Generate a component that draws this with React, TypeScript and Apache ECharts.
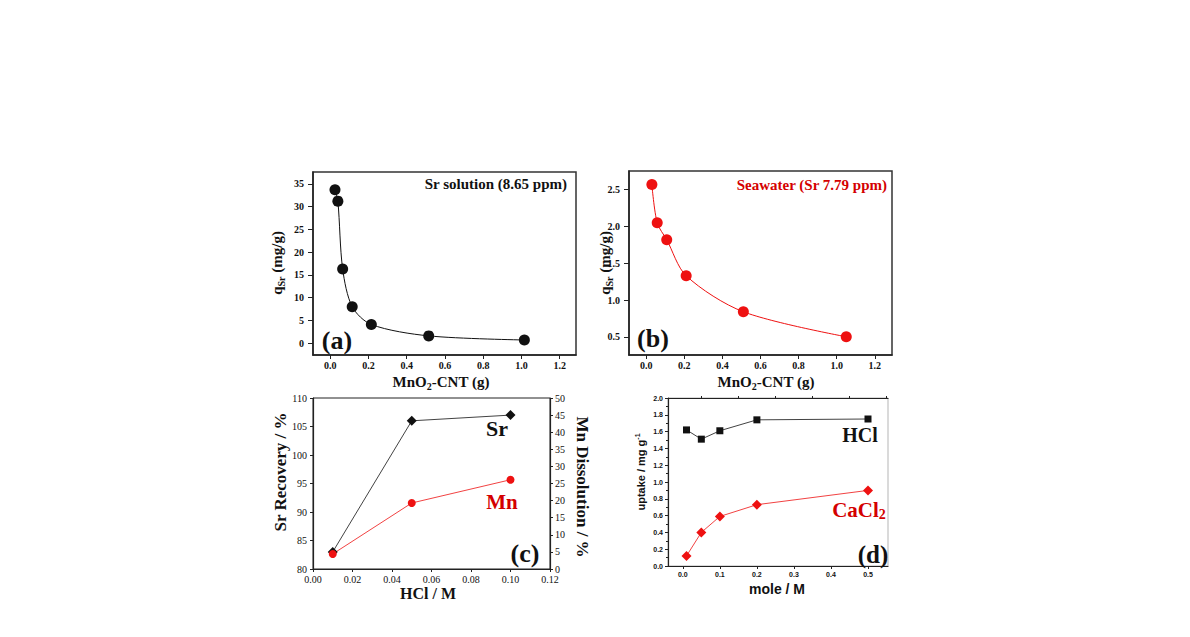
import React, { useEffect, useRef } from "react";
import * as echarts from "echarts";

// ---- data ----
const aX = [0.025, 0.04, 0.065, 0.115, 0.215, 0.515, 1.015];
const aY = [33.7, 31.2, 16.3, 8.0, 4.1, 1.6, 0.7];

const bX = [0.03, 0.058, 0.108, 0.21, 0.51, 1.05];
const bY = [2.57, 2.05, 1.82, 1.33, 0.84, 0.5];

const cX = [0.01, 0.05, 0.1];
const cSr = [83.0, 106.0, 107.0];
const cMn = [4.4, 19.3, 26.1];

const dX = [0.01, 0.05, 0.1, 0.2, 0.5];
const dHCl = [1.62, 1.51, 1.61, 1.74, 1.75];
const dCaCl2 = [0.12, 0.4, 0.59, 0.73, 0.9];

const abXTicks = [0, 0.2, 0.4, 0.6, 0.8, 1.0, 1.2];
const aYTicks = [0, 5, 10, 15, 20, 25, 30, 35];
const bYTicks = [0.5, 1.0, 1.5, 2.0, 2.5];
const dXTicks = [0, 0.1, 0.2, 0.3, 0.4, 0.5];
const dXMinor = [0.05, 0.15, 0.25, 0.35, 0.45, 0.55];

const serif = '"Liberation Serif", "Times New Roman", serif';
const sans = '"Liberation Sans", Arial, sans-serif';
const RED = "#ee1111";
const TRED = "#d40000";

const pairs = (xs: number[], ys: number[]) => xs.map((x, i) => [x, ys[i]]);

function label(x: number, y: number, text: string, size: number, color: string, opts: any = {}) {
  const fam = opts.family || serif;
  const rich: any = {
    m: { fontSize: size, fontFamily: fam, fontWeight: "bold", fill: color, color, lineHeight: opts.lh || size + 3 },
    s: {
      fontSize: opts.sub || Math.round(size * 0.65),
      fontFamily: fam,
      fontWeight: "bold",
      fill: color,
      color,
      lineHeight: opts.sub || Math.round(size * 0.65),
      padding: [opts.subPad || Math.round(size * 0.5), 0, 0, 0],
    },
    p: {
      fontSize: opts.sup || Math.round(size * 0.7),
      fontFamily: fam,
      fontWeight: "bold",
      fill: color,
      color,
      lineHeight: opts.sup || Math.round(size * 0.7),
      padding: [0, 0, opts.supPad || Math.round(size * 0.6), 0],
    },
  };
  return {
    type: "text",
    x,
    y,
    rotation: opts.rot || 0,
    z: 100,
    style: {
      text,
      rich,
      fill: color,
      fontSize: size,
      fontFamily: fam,
      fontWeight: "bold",
      align: "center",
      verticalAlign: "middle",
    },
  };
}

function valAxis(grid: number, min: number, max: number, o: any = {}) {
  return {
    type: "value",
    gridIndex: grid,
    min,
    max,
    splitLine: { show: false },
    axisLine: { show: true, onZero: false, lineStyle: { color: o.lineColor || "#222", width: o.lineWidth || 1.2 } },
    axisTick: {
      show: true,
      inside: false,
      length: o.tickLen || 4,
      lineStyle: { color: "#222", width: 1 },
      ...(o.ticks ? { customValues: o.ticks } : {}),
    },
    axisLabel: {
      show: o.noLabel ? false : true,
      fontSize: o.fontSize || 10,
      fontFamily: o.family || serif,
      fontWeight: o.weight || "bold",
      color: "#111",
      margin: o.margin ?? 6,
      formatter: (v: number) => (o.dec != null ? v.toFixed(o.dec) : String(v)),
      ...(o.ticks ? { customValues: o.ticks } : {}),
    },
    ...(o.interval ? { interval: o.interval } : {}),
    ...(o.position ? { position: o.position } : {}),
    ...(o.minor ? { minorTick: { show: true, splitNumber: 2, length: 2, lineStyle: { color: "#222" } } } : {}),
  };
}

export default function App() {
  const ref = useRef<HTMLDivElement>(null);
  useEffect(() => {
    if (!ref.current) return;
    const chart = echarts.init(ref.current, undefined, { renderer: "svg" });
    const option: any = {
      animation: false,
      backgroundColor: "#ffffff",
      grid: [
        { left: 313, top: 172, width: 263, height: 183, show: true, borderColor: "#333", borderWidth: 1.5, backgroundColor: "transparent" },
        { left: 629, top: 171, width: 263, height: 184, show: true, borderColor: "#333", borderWidth: 1.5, backgroundColor: "transparent" },
        { left: 313, top: 398, width: 237, height: 171, show: true, borderColor: "#222", borderWidth: 1, backgroundColor: "transparent" },
        { left: 668, top: 398, width: 220, height: 168, show: true, borderColor: "#b5b5b5", borderWidth: 1, backgroundColor: "transparent" },
      ],
      xAxis: [
        valAxis(0, -0.09, 1.285, { ticks: abXTicks, dec: 1, margin: 5, lineWidth: 1.5 }),
        valAxis(1, -0.09, 1.29, { ticks: abXTicks, dec: 1, margin: 5, lineWidth: 1.5 }),
        valAxis(2, 0, 0.12, { interval: 0.02, dec: 2, weight: "normal", margin: 5, fontSize: 10, tickLen: 3 }),
        valAxis(3, -0.04, 0.554, { ticks: dXTicks, dec: 1, family: sans, fontSize: 7, margin: 5, tickLen: 3 }),
        valAxis(3, -0.04, 0.554, { ticks: dXMinor, noLabel: true, tickLen: 2 }),
      ],
      yAxis: [
        valAxis(0, -2.6, 37.6, { ticks: aYTicks, margin: 9, tickLen: 5, lineWidth: 1.5 }),
        valAxis(1, 0.252, 2.755, { ticks: bYTicks, dec: 1, margin: 9, tickLen: 5, lineWidth: 1.5 }),
        valAxis(2, 80, 110, { interval: 5, weight: "normal", margin: 6, fontSize: 10, tickLen: 3 }),
        valAxis(2, 0, 50, { interval: 5, weight: "normal", margin: 5, fontSize: 10, position: "right", tickLen: 3 }),
        valAxis(3, 0, 2.0, { interval: 0.2, dec: 1, family: sans, fontSize: 7, margin: 5, tickLen: 3, minor: true }),
      ],
      series: [
        {
          type: "line",
          xAxisIndex: 0,
          yAxisIndex: 0,
          data: pairs(aX, aY),
          smooth: 0.3,
          symbol: "circle",
          symbolSize: 11,
          itemStyle: { color: "#111" },
          lineStyle: { color: "#111", width: 1 },
        },
        {
          type: "line",
          xAxisIndex: 1,
          yAxisIndex: 1,
          data: pairs(bX, bY),
          smooth: 0.3,
          symbol: "circle",
          symbolSize: 11,
          itemStyle: { color: RED },
          lineStyle: { color: RED, width: 1 },
        },
        {
          type: "line",
          xAxisIndex: 2,
          yAxisIndex: 2,
          data: pairs(cX, cSr),
          symbol: "diamond",
          symbolSize: 10,
          itemStyle: { color: "#111" },
          lineStyle: { color: "#111", width: 0.8 },
        },
        {
          type: "line",
          xAxisIndex: 2,
          yAxisIndex: 3,
          data: pairs(cX, cMn),
          symbol: "circle",
          symbolSize: 8,
          itemStyle: { color: RED },
          lineStyle: { color: RED, width: 0.8 },
        },
        {
          type: "line",
          xAxisIndex: 3,
          yAxisIndex: 4,
          data: pairs(dX, dHCl),
          symbol: "rect",
          symbolSize: 7,
          itemStyle: { color: "#111" },
          lineStyle: { color: "#111", width: 0.8 },
        },
        {
          type: "line",
          xAxisIndex: 3,
          yAxisIndex: 4,
          data: pairs(dX, dCaCl2),
          symbol: "diamond",
          symbolSize: 10,
          itemStyle: { color: RED },
          lineStyle: { color: RED, width: 0.8 },
        },
      ],
      graphic: [
        // panel a
        label(277, 263, "{m|q}{s|Sr}{m| (mg/g)}", 15, "#111", { rot: Math.PI / 2, sub: 10, subPad: 8, lh: 18 }),
        label(441, 382, "{m|MnO}{s|2}{m|-CNT (g)}", 15, "#111", { sub: 10, subPad: 8, lh: 18 }),
        { type: "text", x: 567, y: 184, z: 100, style: { text: "Sr solution (8.65 ppm)", fill: "#111", fontSize: 15, fontFamily: serif, fontWeight: "bold", align: "right", verticalAlign: "middle" } },
        label(337, 340, "{m|(a)}", 26, "#111"),
        // panel b
        label(605, 263, "{m|q}{s|Sr}{m| (mg/g)}", 15, "#111", { rot: Math.PI / 2, sub: 10, subPad: 8, lh: 18 }),
        label(766, 382, "{m|MnO}{s|2}{m|-CNT (g)}", 15, "#111", { sub: 10, subPad: 8, lh: 18 }),
        { type: "text", x: 887, y: 185, z: 100, style: { text: "Seawater (Sr 7.79 ppm)", fill: TRED, fontSize: 15, fontFamily: serif, fontWeight: "bold", align: "right", verticalAlign: "middle" } },
        label(653, 338, "{m|(b)}", 26, "#111"),
        // panel c
        label(280, 472, "{m|Sr Recovery / %}", 17, "#111", { rot: Math.PI / 2 }),
        label(582, 487, "{m|Mn Dissolution / %}", 17, "#111", { rot: -Math.PI / 2 }),
        label(428, 593, "{m|HCl / M}", 16, "#111"),
        label(497, 428, "{m|Sr}", 22, "#111"),
        label(502, 502, "{m|Mn}", 21, TRED),
        label(525, 553, "{m|(c)}", 26, "#111"),
        // panel d
        label(641, 472, "{m|uptake / mg g}{p|-1}", 11, "#111", { rot: Math.PI / 2, family: sans, sup: 7, supPad: 7, lh: 14 }),
        label(777, 589, "{m|mole / M}", 14, "#111", { family: sans }),
        label(860, 435, "{m|HCl}", 20, "#111"),
        label(859, 510, "{m|CaCl}{s|2}", 21, TRED, { sub: 14, subPad: 9, lh: 23 }),
        label(873, 554, "{m|(d)}", 25, "#111"),
      ],
    };
    chart.setOption(option);
    return () => chart.dispose();
  }, []);
  return (
    <div
      ref={ref}
      style={{ position: "absolute", left: 0, top: 0, width: 1190, height: 637, background: "#fff" }}
    />
  );
}
